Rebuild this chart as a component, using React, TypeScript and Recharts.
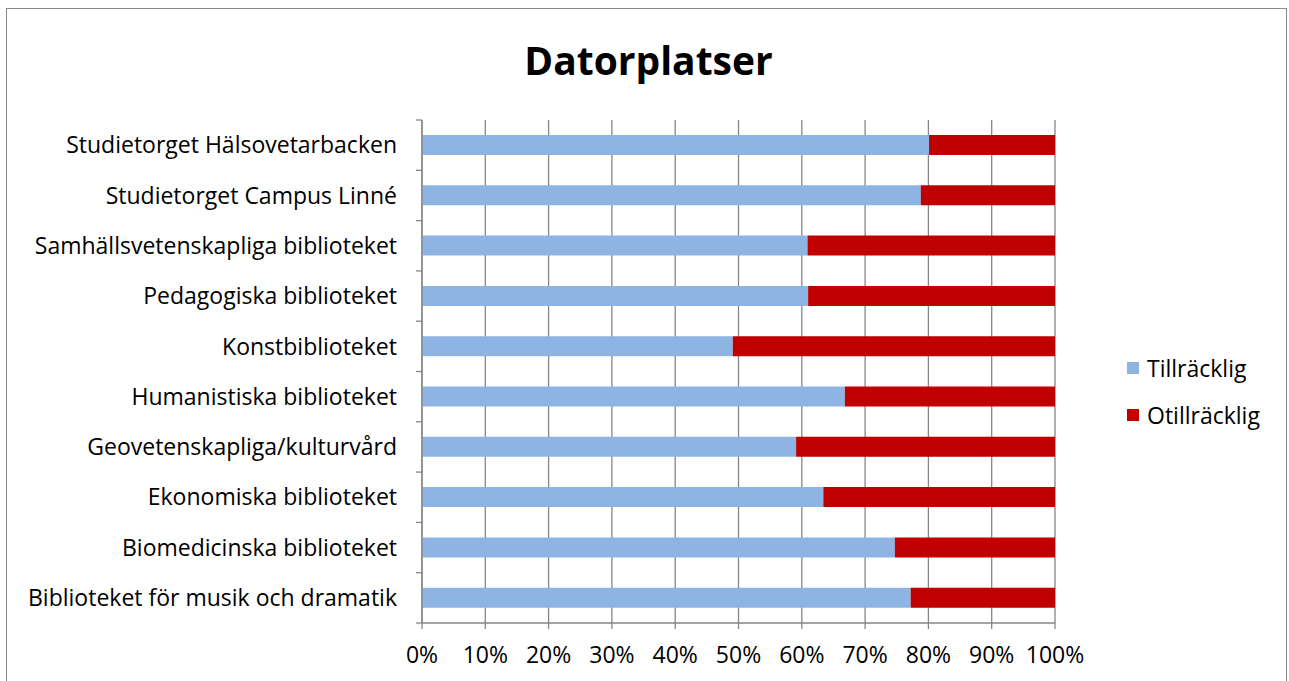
import React from "react";
import { BarChart, Bar, XAxis, YAxis, CartesianGrid } from "recharts";

const categories = [
  "Studietorget Hälsovetarbacken",
  "Studietorget Campus Linné",
  "Samhällsvetenskapliga biblioteket",
  "Pedagogiska biblioteket",
  "Konstbiblioteket",
  "Humanistiska biblioteket",
  "Geovetenskapliga/kulturvård",
  "Ekonomiska biblioteket",
  "Biomedicinska biblioteket",
  "Biblioteket för musik och dramatik",
];
const tillracklig = [80.1, 78.8, 60.9, 61.0, 49.1, 66.8, 59.1, 63.4, 74.7, 77.2];
const otillracklig = [19.9, 21.2, 39.1, 39.0, 50.9, 33.2, 40.9, 36.6, 25.3, 22.8];
const xTicks = [0, 10, 20, 30, 40, 50, 60, 70, 80, 90, 100];
const seriesNames = ["Tillräcklig", "Otillräcklig"];
const colors = ["#8EB4E3", "#C00000"];

const data = categories.map((c, i) => ({
  name: c,
  till: tillracklig[i],
  otill: otillracklig[i],
}));

const FONT = "'Open Sans', 'Noto Sans', sans-serif";
const AX = "#868686";
const GAP = 25; // distance from axis line to label anchor

const CategoryTick = (props: any) => {
  const { x, y, payload, index } = props;
  const half = payload && payload.offset ? payload.offset : 25;
  const ax = x + GAP;
  return (
    <g>
      <line x1={ax - 6} x2={ax} y1={y - half} y2={y - half} stroke={AX} strokeWidth={1.3} />
      {index === categories.length - 1 ? (
        <line x1={ax - 6} x2={ax} y1={y + half} y2={y + half} stroke={AX} strokeWidth={1.3} />
      ) : null}
      <text x={x} y={y} dy="0.355em" textAnchor="end" fill="#000" fontSize={23} fontFamily={FONT}>
        {payload.value}
      </text>
    </g>
  );
};

export default function App() {
  return (
    <div
      style={{
        position: "absolute",
        left: 6,
        top: 8,
        width: 1279,
        height: 680,
        border: "1px solid #8a8a8a",
        background: "#fff",
      }}
    >
      <div
        style={{
          position: "absolute",
          left: 0,
          width: 1283,
          top: 24,
          textAlign: "center",
          fontFamily: FONT,
          fontWeight: "bold",
          fontSize: 39,
          lineHeight: "54px",
          color: "#000",
        }}
      >
        Datorplatser
      </div>
      <div
        style={{
          position: "absolute",
          left: 1120,
          top: 335,
          fontFamily: FONT,
          fontSize: 23,
          color: "#000",
        }}
      >
        {seriesNames.map((n, i) => (
          <div key={n} style={{ display: "flex", alignItems: "center", height: 47 }}>
            <span
              style={{ display: "inline-block", width: 12, height: 12, background: colors[i], marginRight: 8 }}
            />
            <span>{n}</span>
          </div>
        ))}
      </div>
      <BarChart
        width={1279}
        height={672}
        data={data}
        layout="vertical"
        margin={{ top: 111, right: 231, left: 0, bottom: 0 }}
        barSize={20}
      >
        <CartesianGrid horizontal={false} vertical={true} stroke={AX} strokeWidth={1.3} />
        <XAxis
          type="number"
          domain={[0, 100]}
          ticks={xTicks}
          tickFormatter={(v) => `${v}%`}
          height={58}
          axisLine={{ stroke: AX, strokeWidth: 1.3 }}
          tickLine={{ stroke: AX, strokeWidth: 1.3 }}
          tickSize={6}
          tickMargin={18}
          tick={{ fill: "#000", fontSize: 23, fontFamily: FONT }}
          interval={0}
        />
        <YAxis
          type="category"
          dataKey="name"
          width={415}
          axisLine={{ stroke: AX, strokeWidth: 1.3 }}
          tickLine={false}
          tickSize={6}
          tickMargin={19}
          tick={<CategoryTick />}
          interval={0}
        />
        <Bar dataKey="till" stackId="a" fill={colors[0]} name={seriesNames[0]} isAnimationActive={false} />
        <Bar dataKey="otill" stackId="a" fill={colors[1]} name={seriesNames[1]} isAnimationActive={false} />
      </BarChart>
    </div>
  );
}
